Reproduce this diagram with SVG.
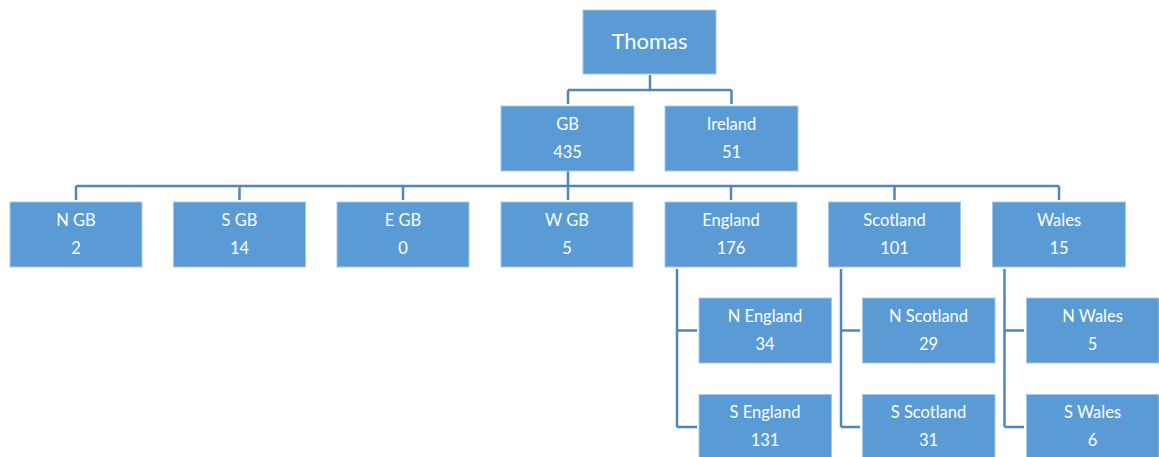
<svg xmlns="http://www.w3.org/2000/svg" width="1159" height="457" viewBox="0 0 1159 457">
<style>
.box{fill:#5B9BD5;stroke:#A9C8E8;stroke-width:1}
.t{font-family:Lato,"Open Sans",sans-serif;font-size:16.5px;fill:#ffffff;text-anchor:middle}
.big{font-size:22px}
.conn{fill:none;stroke:#4F86C0;stroke-width:2.5}
</style>
<rect width="1159" height="457" fill="#ffffff"/>
<g id="connectors">
<path class="conn" d="M650,75 V90 M568,90 H731.5 M568,90 V104 M731.5,90 V104"/>
<path class="conn" d="M568,171 V200 M76,186 H1059 M76,186 V200 M239.5,186 V200 M403,186 V200 M731,186 V200 M894.5,186 V200 M1059,186 V200"/>
<path class="conn" d="M677,269 V427 M677,330.5 H697 M677,427 H697"/>
<path class="conn" d="M841,269 V427 M841,330.5 H860 M841,427 H860"/>
<path class="conn" d="M1004.5,269 V427 M1004.5,330.5 H1024 M1004.5,427 H1024"/>
</g>
<g id="thomas"><rect class="box" x="583" y="10" width="133" height="64"/><text class="t big" x="649.5" y="49">Thomas</text></g>
<g id="gb"><rect class="box" x="501" y="106" width="133" height="65"/><text class="t" x="567.5" y="129.5">GB</text><text class="t" x="567.5" y="157.5">435</text></g>
<g id="ireland"><rect class="box" x="665" y="106" width="133" height="65"/><text class="t" x="731.5" y="129.5">Ireland</text><text class="t" x="731.5" y="157.5">51</text></g>
<g id="ngb"><rect class="box" x="10" y="202" width="132" height="65"/><text class="t" x="76" y="225.5">N GB</text><text class="t" x="76" y="253.5">2</text></g>
<g id="sgb"><rect class="box" x="173.5" y="202" width="132" height="65"/><text class="t" x="239.5" y="225.5">S GB</text><text class="t" x="239.5" y="253.5">14</text></g>
<g id="egb"><rect class="box" x="337" y="202" width="132" height="65"/><text class="t" x="403" y="225.5">E GB</text><text class="t" x="403" y="253.5">0</text></g>
<g id="wgb"><rect class="box" x="501" y="202" width="132" height="65"/><text class="t" x="567" y="225.5">W GB</text><text class="t" x="567" y="253.5">5</text></g>
<g id="england"><rect class="box" x="665" y="202" width="132" height="65"/><text class="t" x="731" y="225.5">England</text><text class="t" x="731" y="253.5">176</text></g>
<g id="scotland"><rect class="box" x="828.5" y="202" width="132" height="65"/><text class="t" x="894.5" y="225.5">Scotland</text><text class="t" x="894.5" y="253.5">101</text></g>
<g id="wales"><rect class="box" x="992.5" y="202" width="133" height="65"/><text class="t" x="1059" y="225.5">Wales</text><text class="t" x="1059" y="253.5">15</text></g>
<g id="nengland"><rect class="box" x="699" y="298" width="132.5" height="65"/><text class="t" x="765" y="322">N England</text><text class="t" x="765" y="350">34</text></g>
<g id="sengland"><rect class="box" x="699" y="394.5" width="132.5" height="65"/><text class="t" x="765" y="418">S England</text><text class="t" x="765" y="446">131</text></g>
<g id="nscotland"><rect class="box" x="862.5" y="298" width="132.5" height="65"/><text class="t" x="928.5" y="322">N Scotland</text><text class="t" x="928.5" y="350">29</text></g>
<g id="sscotland"><rect class="box" x="862.5" y="394.5" width="132.5" height="65"/><text class="t" x="928.5" y="418">S Scotland</text><text class="t" x="928.5" y="446">31</text></g>
<g id="nwales"><rect class="box" x="1026.5" y="298" width="132.5" height="65"/><text class="t" x="1092.5" y="322">N Wales</text><text class="t" x="1092.5" y="350">5</text></g>
<g id="swales"><rect class="box" x="1026.5" y="394.5" width="132.5" height="65"/><text class="t" x="1092.5" y="418">S Wales</text><text class="t" x="1092.5" y="446">6</text></g>
</svg>
